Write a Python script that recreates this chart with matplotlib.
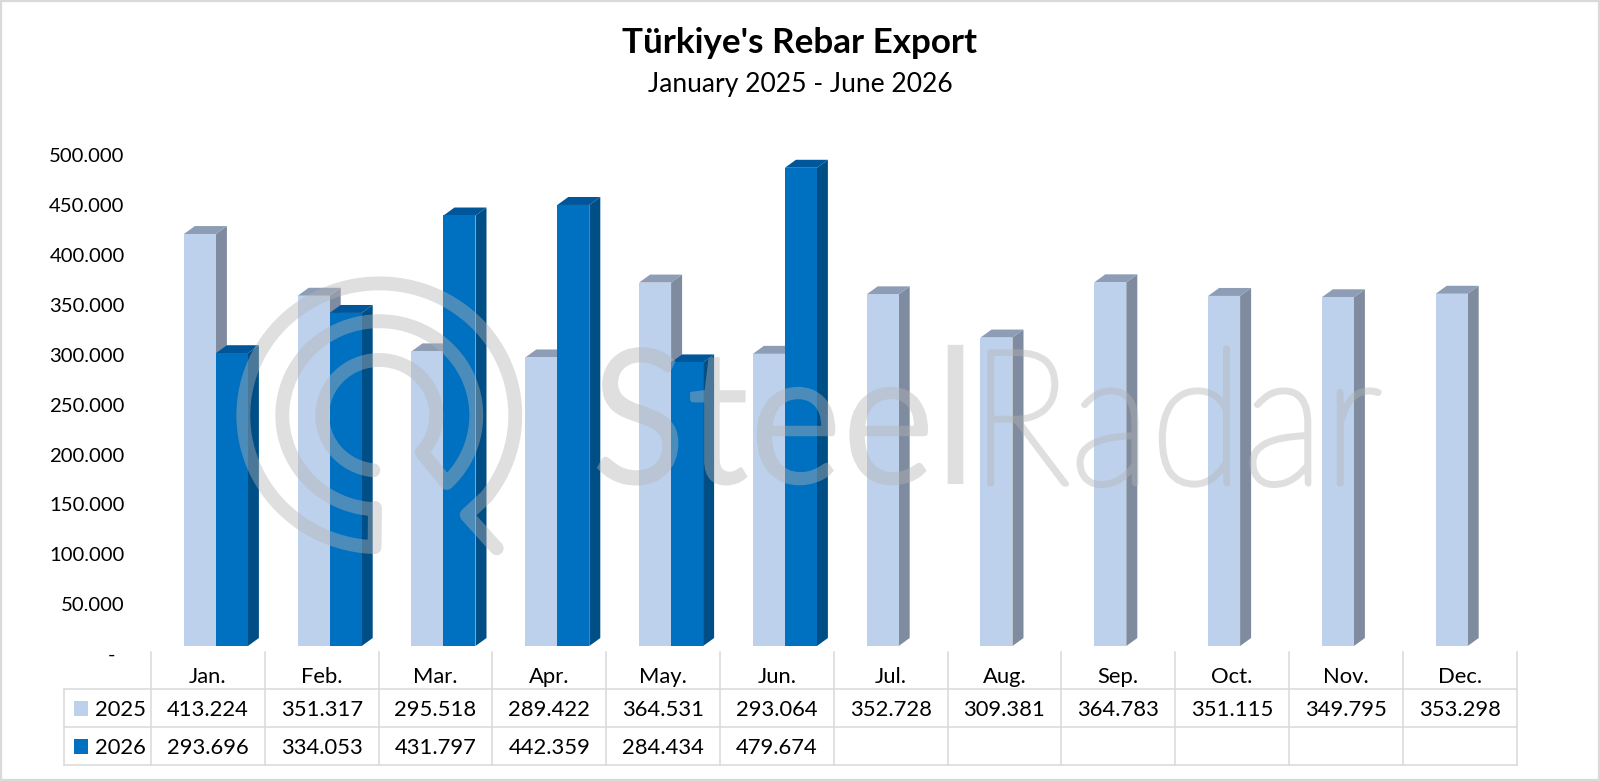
import numpy as np
import matplotlib
matplotlib.use("Agg")
import matplotlib.pyplot as plt
import matplotlib.patheffects as pe
from matplotlib.patches import Polygon, Rectangle
from matplotlib.transforms import Affine2D, ScaledTranslation

plt.rcParams['font.family'] = ['Lato', 'DejaVu Sans']

months = ['Jan.', 'Feb.', 'Mar.', 'Apr.', 'May.', 'Jun.', 'Jul.', 'Aug.', 'Sep.', 'Oct.', 'Nov.', 'Dec.']
export_2025 = [413224, 351317, 295518, 289422, 364531, 293064, 352728, 309381, 364783, 351115, 349795, 353298]
export_2026 = [293696, 334053, 431797, 442359, 284434, 479674]
y_ticks = [0, 50000, 100000, 150000, 200000, 250000, 300000, 350000, 400000, 450000, 500000]

W, H = 1600, 781
LIGHT = ('#BDD1EC', '#7F8C9F', '#8E9DB6')
DARK = ('#0070C0', '#004E86', '#00569A')
GRID = '#D9D9D9'


def dotted(v):
    return f"{v:,}".replace(",", ".")


# shrinks a text sideways, the watermark font is condensed
# with outline > 0 only the glyph contour is stroked, to thicken a thin weight
class Squeeze(pe.AbstractPathEffect):
    def __init__(self, x0, sx, outline=0, color=None):
        super().__init__()
        self.x0 = x0
        self.sx = sx
        self.outline = outline
        self.color = color

    def draw_path(self, renderer, gc, tpath, affine, rgbFace=None):
        squeeze = Affine2D().translate(-self.x0, 0).scale(self.sx, 1).translate(self.x0, 0)
        if self.outline:
            gc0 = renderer.new_gc()
            gc0.copy_properties(gc)
            gc0.set_foreground(self.color)
            gc0.set_linewidth(self.outline)
            renderer.draw_path(gc0, tpath, affine + squeeze, None)
            gc0.restore()
        else:
            renderer.draw_path(gc, tpath, affine + squeeze, rgbFace)


fig = plt.figure(figsize=(W / 100, H / 100), dpi=100, facecolor='white')

# main axes: pixel box of the 12 categories and of the 0-500.000 scale
left, right, base, top = 151, 1516.6, 646, 147.5
ax = fig.add_axes([left / W, 1 - base / H, (right - left) / W, (base - top) / H])
ax.set_xlim(-0.5, 11.5)
ax.set_ylim(0, 500000)
ax.patch.set_visible(False)
for s in ax.spines.values():
    s.set_visible(False)
ax.set_xticks([])
ax.set_yticks(y_ticks)
ax.set_yticklabels(['-'] + [dotted(v) for v in y_ticks[1:]], fontsize=14.6, color='black')
ax.tick_params(axis='y', length=0, pad=19)

# labels sit a bit under the bar scale because of the 3d wall
down = ScaledTranslation(0, -8 / 100, fig.dpi_scale_trans)
for i, lab in enumerate(ax.get_yticklabels()):
    tr = lab.get_transform() + down
    if i == 0:
        tr = tr + ScaledTranslation(-9.5 / 100, 0, fig.dpi_scale_trans)
    lab.set_transform(tr)

bar_w = 32 / 113.8
dx = 11 / 113.8
dy = 8000


def bar3d(x0, v, cols, z):
    x1 = x0 + bar_w
    ax.add_patch(Polygon([(x1, 0), (x1 + dx, dy), (x1 + dx, v + dy), (x1, v)], fc=cols[1], ec='none', zorder=z))
    ax.add_patch(Polygon([(x0, v), (x0 + dx, v + dy), (x1 + dx, v + dy), (x1, v)], fc=cols[2], ec='none', zorder=z))
    ax.bar(x0, v, width=bar_w, align='edge', color=cols[0], linewidth=0, zorder=z + 0.1)


for i, v in enumerate(export_2025):
    bar3d(i - 8 / 113.8 - bar_w / 2, v, LIGHT, 2 + i)
for i, v in enumerate(export_2026):
    bar3d(i - 8 / 113.8 + bar_w / 2, v, DARK, 2.5 + i)

# overlay in pixel coordinates for frame, titles, data table and watermark
ov = fig.add_axes([0, 0, 1, 1], zorder=5)
ov.set_xlim(0, W)
ov.set_ylim(H, 0)
ov.axis('off')

ov.add_patch(Rectangle((1, 1), W - 2.5, H - 2.5, fill=False, ec=GRID, lw=1.6, clip_on=False))

ov.text(800, 53, "Türkiye's Rebar Export", ha='center', va='baseline', fontsize=25.2,
        fontweight='bold', color='black')
ov.text(800, 92, "January 2025 - June 2026", ha='center', va='baseline', fontsize=19.1, color='black')

# data table
cell = (right - left) / 12
ov.plot([64, right], [689, 689], color=GRID, lw=1.1)
ov.plot([64, right], [727, 727], color=GRID, lw=1.1)
ov.plot([64, right], [765, 765], color=GRID, lw=1.1)
ov.plot([64, 64], [689, 765], color=GRID, lw=1.1)
for i in range(13):
    ov.plot([left + i * cell] * 2, [652, 765], color=GRID, lw=1.1)

for i, m in enumerate(months):
    cx = left + (i + 0.5) * cell
    ov.text(cx, 683, m, ha='center', va='baseline', fontsize=15.8, color='black')
    ov.text(cx, 716, dotted(export_2025[i]), ha='center', va='baseline', fontsize=15.8, color='black')
    if i < len(export_2026):
        ov.text(cx, 754, dotted(export_2026[i]), ha='center', va='baseline', fontsize=15.8, color='black')

ov.add_patch(Rectangle((73.5, 701), 14.5, 14.5, fc=LIGHT[0], ec='none'))
ov.add_patch(Rectangle((73.5, 739), 14.5, 14.5, fc=DARK[0], ec='none'))
ov.text(95, 716, '2025', ha='left', va='baseline', fontsize=15.8, color='black')
ov.text(95, 754, '2026', ha='left', va='baseline', fontsize=15.8, color='black')

# watermark, the logo rings are a bit flattened in the source
wm_col = '#B4B4B4'
wm_alpha = 0.42
cxw, cyw = 379.3, 415.3


def arc(r, a0, a1):
    t = np.radians(np.linspace(a0, a1, 200))
    return cxw + r * np.cos(t), cyw + 0.97 * r * np.sin(t)


x1, y1 = arc(57, 96, 402)
x2, y2 = arc(97, 406, 95)
x3, y3 = arc(136, 92, 398)
xs = np.concatenate([x1, x2, [375], x3, [466.7, 496.7]])
ys = np.concatenate([y1, y2, [508], y3, [515, 548.3]])
ov.plot(xs, ys, color=wm_col, alpha=wm_alpha, lw=10, solid_capstyle='round', solid_joinstyle='round')

t1 = ov.text(591, 484, 'Steel', ha='left', va='baseline', fontsize=136, color=wm_col, alpha=wm_alpha)
t1.set_path_effects([Squeeze(591, 0.93)])
t2 = ov.text(970, 484, 'Radar', ha='left', va='baseline', fontsize=136, fontweight='light',
             color=wm_col, alpha=wm_alpha)
t2.set_path_effects([Squeeze(970, 0.90, outline=3.6, color=wm_col)])

fig.savefig('out.png', dpi=100)
